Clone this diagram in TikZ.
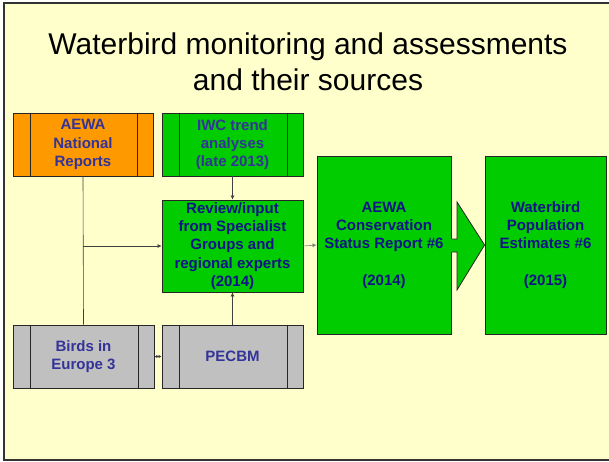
\documentclass[tikz,border=0pt]{standalone}
\usepackage{fontspec}
\setmainfont{Liberation Sans}
\usetikzlibrary{arrows.meta,calc}
\definecolor{bgyel}{HTML}{FFFFCC}
\definecolor{orng}{HTML}{FF9900}
\definecolor{grn}{HTML}{00CC00}
\definecolor{gry}{HTML}{C0C0C0}
\definecolor{txtblue}{HTML}{333399}
\definecolor{txtnavy}{HTML}{12128A}
\definecolor{lnc}{HTML}{404040}
\tikzset{
  box/.style={draw=black!85, line width=0.9pt, minimum height=63pt, minimum width=141pt, inner sep=0pt, align=center,
     font=\fontsize{15}{18.2}\selectfont\bfseries},
  bigbox/.style={box, minimum height=178pt},
  conn/.style={draw=lnc, line width=0.6pt},
  tip/.style={-{Latex[length=4pt,width=4pt]}},
  titletext/.style={font=\fontsize{30}{36.7}\selectfont, anchor=base, inner sep=0pt, text=black}
}
\begin{document}
\begin{tikzpicture}[x=1pt,y=-1pt]
\useasboundingbox (0,0) rectangle (609,461);
\fill[white] (0,0) rectangle (609,461);
\draw[fill=bgyel, draw=black!80, line width=1.5pt] (4,3) rectangle (613,460);

\node[titletext] (t1) at (308,54) {Waterbird monitoring and assessments};
\node[titletext] (t2) at (308,90.7) {and their sources};

\node[box, fill=orng, text=txtblue, minimum width=140pt] (nat) at (83,144.5) {AEWA\\National\\Reports};
\node[box, fill=grn, text=txtblue] (iwc) at (232.5,144.5) {IWC trend\\analyses\\(late 2013)};
\node[box, fill=grn, text=txtnavy, minimum height=92pt] (rev) at (232.5,246) {Review/input\\from Specialist\\Groups and\\regional experts\\(2014)};
\node[box, fill=gry, text=txtblue] (bie) at (83.5,356.5) {Birds in\\Europe 3};
\node[box, fill=gry, text=txtblue] (pec) at (232.5,356.5) {PECBM};
\node[bigbox, fill=grn, text=txtnavy, minimum width=134pt] (csr) at (384,245) {AEWA\\Conservation\\Status Report \#6\\[18.2pt](2014)};
\node[bigbox, fill=grn, text=txtnavy, minimum width=121pt] (wpe) at (545.5,245) {Waterbird\\Population\\Estimates \#6\\[18.2pt](2015)};

% inner vertical bars of the small source boxes
\foreach \n in {nat,iwc,bie,pec}{
  \draw[draw=black!85, line width=0.9pt] ([xshift=17.5pt]\n.north west) -- ([xshift=17.5pt]\n.south west);
  \draw[draw=black!85, line width=0.9pt] ([xshift=-16.5pt]\n.north east) -- ([xshift=-16.5pt]\n.south east);
}

% connectors
\draw[conn] (nat.south) -- (bie.north);
\coordinate (jn) at (nat.south |- rev.west);
\draw[conn, tip] (jn) -- (rev.west);
\draw[conn, tip] (iwc.south) -- (rev.north);
\draw[conn, tip] (pec.north) -- (rev.south);
\draw[conn, draw=gray, tip] (rev.east) -- (csr.west);
\draw[conn, {Latex[length=3pt,width=3.5pt]}-{Latex[length=3pt,width=3.5pt]}] (bie.east) -- (pec.west);

% block arrow between the two reports
\draw[fill=grn, draw=black!85, line width=0.8pt]
  ($(csr.east)+(0,-6)$) -- (457,239) -- (457,202) -- (wpe.west) -- (457,290) -- (457,252) -- ($(csr.east)+(0,7)$);
\fill[grn] ($(csr.east)+(-0.8,-5.6)$) rectangle ($(csr.east)+(1,6.6)$);
\end{tikzpicture}
\end{document}
